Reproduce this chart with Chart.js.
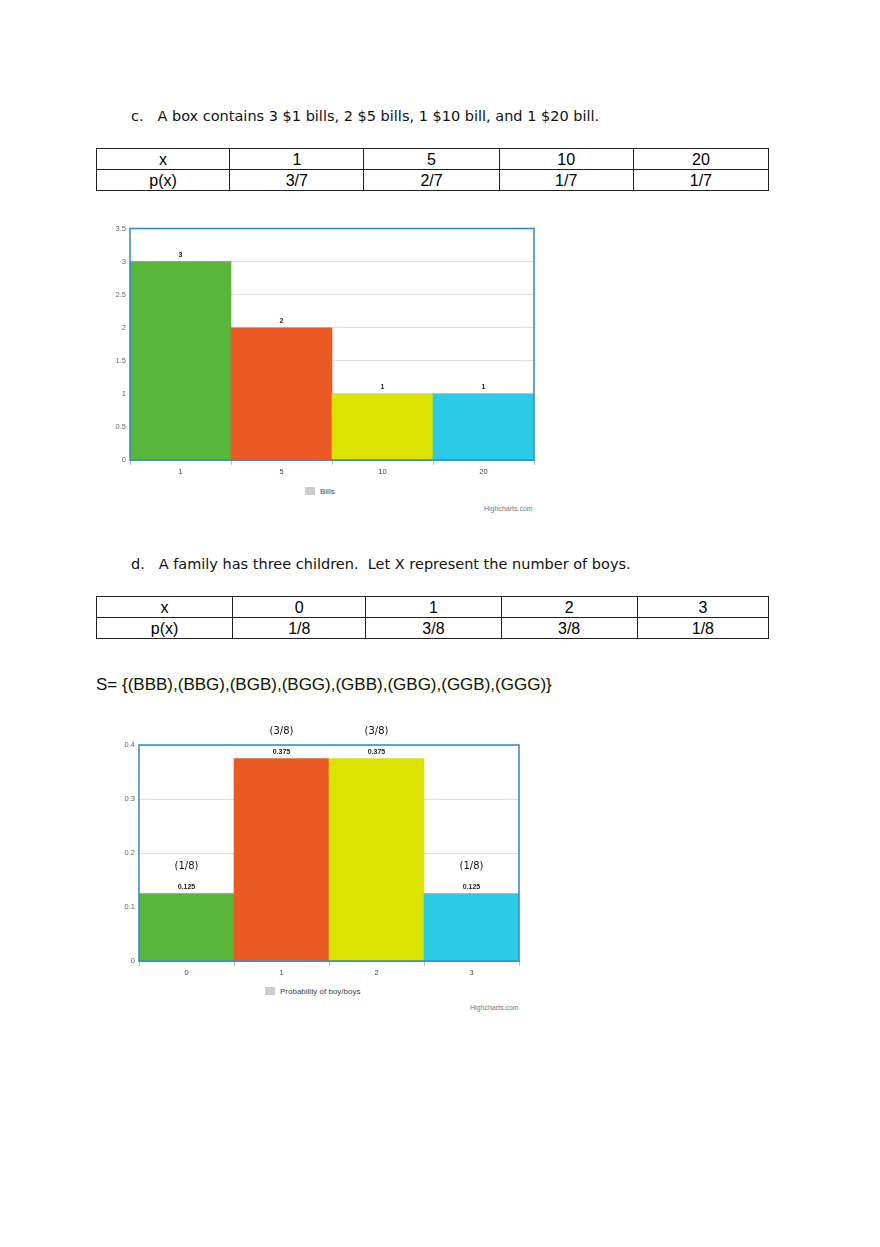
<!DOCTYPE html>
<html><head><meta charset="utf-8">
<script src="https://cdn.jsdelivr.net/npm/chart.js@4"></script>
<style>
body{margin:0;background:#fff;width:880px;height:1247px;position:relative;font-family:"DejaVu Sans",sans-serif;}
.abs{position:absolute;}
.q{font-size:14.5px;color:#111;}
table{border-collapse:collapse;font-family:"Liberation Sans",Arial,sans-serif;font-size:16px;}
td{border:1px solid #222;text-align:center;height:20px;padding:0;line-height:18px;vertical-align:bottom;}
.leg{font-family:"Liberation Sans",Arial,sans-serif;font-size:8px;color:#444;}
.leg span.box{display:inline-block;width:10px;height:8px;background:#ccc;vertical-align:-1px;margin-right:5px;}
.credit{font-family:"Liberation Sans",Arial,sans-serif;font-size:7px;color:#777;}
</style></head><body>
<div class="abs q" style="left:131px;top:108px;">c.&nbsp;&nbsp;&nbsp;A box contains 3 $1 bills, 2 $5 bills, 1 $10 bill, and 1 $20 bill.</div>
<table class="abs" id="t1" style="left:96px;top:148px;width:673px;"></table>
<div class="abs" style="left:96px;top:220px;width:444px;height:262px;"><canvas id="c1"></canvas></div>
<div class="abs leg" style="left:305px;top:487px;"><span class="box"></span>Bills</div>
<div class="abs credit" style="left:484px;top:505px;">Highcharts.com</div>

<div class="abs q" style="left:131px;top:556px;">d.&nbsp;&nbsp;&nbsp;A family has three children.&nbsp; Let X represent the number of boys.</div>
<table class="abs" id="t2" style="left:96px;top:596px;width:673px;"></table>
<div class="abs" style="left:96px;top:675px;font-family:'Liberation Sans',Arial,sans-serif;font-size:17px;color:#111;">S= <span style="background:#fbfdf0">{(BBB),(BBG),(BGB),(BGG),(GBB),(GBG),(GGB),(GGG)}</span></div>
<div class="abs" style="left:100px;top:720px;width:425px;height:263px;"><canvas id="c2"></canvas></div>
<div class="abs leg" style="left:265px;top:987px;"><span class="box"></span>Probability of boy/boys</div>
<div class="abs credit" style="left:470px;top:1004px;">Highcharts.com</div>
<script>
const t1X=['1','5','10','20'], t1P=['3/7','2/7','1/7','1/7'];
const t2X=['0','1','2','3'], t2P=['1/8','3/8','3/8','1/8'];
const bills=['1','5','10','20'], billCounts=[3,2,1,1];
const boys=['0','1','2','3'], boyProb=[0.125,0.375,0.375,0.125], boyFrac=['(1/8)','(3/8)','(3/8)','(1/8)'];
const colors=['#58b63a','#ea5a22','#dce300','#2ccbe5'];

function fillTable(id,xs,ps,widths){
  const t=document.getElementById(id);
  let r1='<tr><td style="width:'+widths[0]+'px">x</td>'+xs.map((v,i)=>'<td style="width:'+widths[i+1]+'px">'+v+'</td>').join('')+'</tr>';
  let r2='<tr><td>p(x)</td>'+ps.map(v=>'<td>'+v+'</td>').join('')+'</tr>';
  t.innerHTML=r1+r2;
}
fillTable('t1',t1X,t1P,[133,134,135,134,135]);
fillTable('t2',t2X,t2P,[136,133,135,136,131]);

const frame={id:'frame',afterDatasetsDraw(c){const a=c.chartArea,x=c.ctx;x.save();x.strokeStyle='#2e86c8';x.lineWidth=1.5;x.strokeRect(a.left,a.top,a.right-a.left,a.bottom-a.top);x.restore();}};
function labels(fmt,extra){return {id:'lbl',afterDatasetsDraw(c){const x=c.ctx;const m=c.getDatasetMeta(0);x.save();x.textAlign='center';
  m.data.forEach((b,i)=>{x.fillStyle='#222';x.font='bold 7px "Liberation Sans",Arial';x.fillText(fmt(c.data.datasets[0].data[i]),b.x,b.y-5);
  if(extra){x.font='10px "DejaVu Sans",sans-serif';x.fillStyle='#111';x.fillText(extra[i],b.x,b.y-25);}});x.restore();}};}

function mk(id,cats,vals,max,step,yw,pad,fmt,extra){
  new Chart(document.getElementById(id),{type:'bar',
   data:{labels:cats,datasets:[{data:vals,backgroundColor:colors,barPercentage:1,categoryPercentage:1}]},
   options:{responsive:true,maintainAspectRatio:false,animation:false,
    layout:{padding:pad},
    plugins:{legend:{display:false},tooltip:{enabled:false}},
    scales:{
     x:{grid:{drawOnChartArea:false,tickLength:5,color:'#bbb'},border:{color:'#999'},ticks:{font:{size:7.5},color:'#444',padding:2},afterFit(s){s.height=22;}},
     y:{min:0,max:max,ticks:{stepSize:step,font:{size:7.5},color:'#666',padding:4,callback:v=>String(+v.toFixed(2))},grid:{color:'#ddd',drawTicks:false},border:{display:false},afterFit(s){s.width=yw;}}
    }},
   plugins:[frame,labels(fmt,extra)]});
}
mk('c1',bills,billCounts,3.5,0.5,34,{top:8,right:6,left:0,bottom:0},v=>String(v),null);
mk('c2',boys,boyProb,0.4,0.1,39,{top:25,right:6,left:0,bottom:0},v=>String(v),boyFrac);
</script>
</body></html>
